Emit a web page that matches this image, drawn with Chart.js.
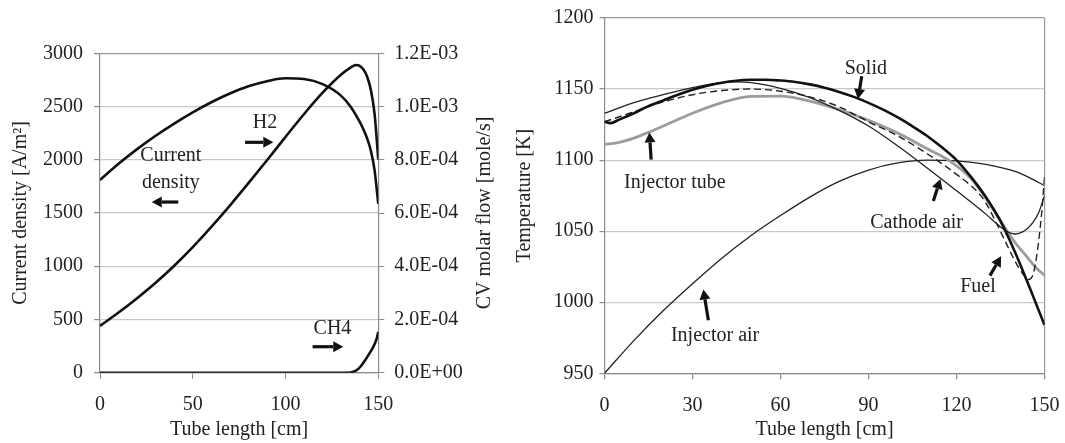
<!DOCTYPE html>
<html><head><meta charset="utf-8">
<script src="https://cdn.jsdelivr.net/npm/chart.js@4.4.1/dist/chart.umd.min.js"></script>
<style>
html,body{margin:0;padding:0;background:#fff;width:1065px;height:443px;overflow:hidden}
#c1{position:absolute;left:0;top:0}
#c2{position:absolute;left:500px;top:0}
</style></head><body>
<canvas id="c1" width="500" height="443"></canvas>
<canvas id="c2" width="565" height="443"></canvas>
<script>
// ---------- Left chart data ----------
const leftXTicks = [0, 50, 100, 150];
const currentTicks = [0, 500, 1000, 1500, 2000, 2500, 3000];
const molarTickValues = [0, 0.0002, 0.0004, 0.0006, 0.0008, 0.0010, 0.0012];
const molarTickLabels = ['0.0E+00', '2.0E-04', '4.0E-04', '6.0E-04', '8.0E-04', '1.0E-03', '1.2E-03'];

const cdX = [0, 10, 20, 30, 40, 50, 60, 70, 80, 90, 100, 110, 120, 130, 135, 140, 142, 144, 146, 148, 150];
const cdY = [1810, 1962, 2100, 2226, 2340, 2445, 2540, 2622, 2690, 2738, 2765, 2758, 2710, 2600, 2500, 2355, 2285, 2200, 2085, 1900, 1585];

const h2X = [0, 10, 20, 30, 40, 50, 60, 70, 80, 90, 100, 110, 120, 130, 135, 138, 140, 142, 144, 146, 148, 150];
const h2Y = [1.76e-4, 2.26e-4, 2.80e-4, 3.38e-4, 4.02e-4, 4.72e-4, 5.48e-4, 6.28e-4, 7.12e-4, 7.98e-4, 8.86e-4, 9.72e-4, 1.052e-3, 1.120e-3, 1.146e-3, 1.156e-3, 1.153e-3, 1.139e-3, 1.112e-3, 1.062e-3, 9.72e-4, 8.0e-4];

const ch4X = [0, 133, 135, 137, 139, 141, 143, 145, 147, 149, 150];
const ch4Y = [0, 0, 1e-6, 5e-6, 1.3e-5, 2.8e-5, 4.8e-5, 7.0e-5, 9.3e-5, 1.25e-4, 1.54e-4];

// ---------- Right chart data ----------
const rightXTicks = [0, 30, 60, 90, 120, 150];
const tempTicks = [950, 1000, 1050, 1100, 1150, 1200];

const solidX = [0, 2, 5, 10, 15, 20, 25, 30, 35, 40, 45, 50, 55, 60, 65, 70, 75, 80, 85, 90, 95, 100, 105, 110, 115, 120, 125, 130, 135, 140, 145, 150];
const solidY = [1127, 1126, 1128.5, 1133, 1138, 1142, 1146, 1149.5, 1152.3, 1154.5, 1155.9, 1156.5, 1156.6, 1156, 1155, 1153.3, 1151, 1148, 1144.5, 1140.3, 1135.5, 1130, 1123.8, 1117, 1109, 1100, 1088, 1074, 1057, 1035, 1010, 984];

const cathodeX = [0, 10, 20, 30, 40, 45, 50, 60, 70, 80, 90, 100, 110, 120, 130, 135, 138, 140, 142, 144, 146, 148, 150];
const cathodeY = [1133, 1140.5, 1146, 1151, 1154.5, 1155, 1154.5, 1150.5, 1144, 1135, 1124, 1110, 1094.5, 1078.5, 1062, 1053, 1049, 1048, 1049, 1051.5, 1056, 1063, 1075];

const fuelX = [0, 10, 20, 30, 40, 50, 60, 70, 80, 90, 100, 110, 120, 127, 130, 134, 138, 141, 143, 144.5, 146, 147, 148, 149, 150];
const fuelY = [1127, 1134, 1141, 1146, 1149, 1150, 1148.5, 1144.5, 1137.5, 1127, 1117, 1104.5, 1090, 1078, 1070, 1054, 1037, 1025, 1019, 1016, 1019, 1028, 1043, 1062, 1088];

const tubeX = [0, 5, 10, 15, 20, 30, 40, 50, 60, 70, 80, 90, 100, 110, 118, 125, 131, 137, 140, 144, 147, 150];
const tubeY = [1111, 1112.5, 1115.5, 1119.5, 1124, 1133, 1140.5, 1144.8, 1145, 1141.5, 1135.5, 1128, 1119, 1108, 1099, 1087, 1070, 1051, 1042, 1032, 1024.5, 1019];

const injAirX = [0, 10, 20, 30, 40, 50, 60, 70, 80, 90, 100, 110, 120, 130, 140, 145, 150];
const injAirY = [950, 973, 994, 1013, 1031, 1047, 1061, 1074, 1085, 1093, 1098, 1100, 1099.5, 1097, 1092, 1087.5, 1082];

// ---------- Annotations (data coordinates) ----------
const leftLabels = [
  {lines: ['Current', 'density'], x: 38.2, y: 1910},
  {lines: ['H2'], x: 88.9, y: 2350},
  {lines: ['CH4'], x: 125.3, y: 410}
];
const leftArrows = [
  {x1: 42.2, y1: 1603, x2: 27.9, y2: 1603},
  {x1: 78.2, y1: 2164, x2: 93.4, y2: 2164},
  {x1: 114.6, y1: 244, x2: 131.1, y2: 244}
];
const rightLabels = [
  {lines: ['Solid'], x: 89.1, y: 1164.4},
  {lines: ['Injector tube'], x: 24, y: 1083.8},
  {lines: ['Cathode air'], x: 106.4, y: 1055.8},
  {lines: ['Fuel'], x: 127.3, y: 1010.6},
  {lines: ['Injector air'], x: 37.7, y: 976.1}
];
const rightArrows = [
  {x1: 87.7, y1: 1159, x2: 86.4, y2: 1143},
  {x1: 15.9, y1: 1100.3, x2: 15.3, y2: 1119.5},
  {x1: 112.1, y1: 1071.2, x2: 114.5, y2: 1086.8},
  {x1: 131.4, y1: 1018.7, x2: 135.2, y2: 1032.3},
  {x1: 35.4, y1: 987.3, x2: 33.7, y2: 1009}
];

const FONT = 'Liberation Serif, Times New Roman, serif';
const pts = (xs, ys) => xs.map((x, i) => ({x: x, y: ys[i]}));
const setTicks = arr => s => { s.ticks = arr.map(v => ({value: v})); };

function drawArrow(ctx, x1, y1, x2, y2) {
  const ang = Math.atan2(y2 - y1, x2 - x1);
  const hl = 10, hw = 5.5;
  const bx = x2 - hl * Math.cos(ang), by = y2 - hl * Math.sin(ang);
  ctx.save();
  ctx.strokeStyle = '#111'; ctx.fillStyle = '#111';
  ctx.lineWidth = 3.2; ctx.lineCap = 'butt';
  ctx.beginPath(); ctx.moveTo(x1, y1); ctx.lineTo(bx, by); ctx.stroke();
  ctx.beginPath();
  ctx.moveTo(x2, y2);
  ctx.lineTo(bx + hw * Math.sin(ang), by - hw * Math.cos(ang));
  ctx.lineTo(bx - hw * Math.sin(ang), by + hw * Math.cos(ang));
  ctx.closePath(); ctx.fill();
  ctx.restore();
}

function annotPlugin(labels, arrows, yId, extra) {
  return {
    id: 'annot',
    afterDatasetsDraw(chart) {
      const ctx = chart.ctx, xs = chart.scales.x, ys = chart.scales[yId];
      ctx.save();
      ctx.font = '20px ' + FONT;
      ctx.fillStyle = '#222';
      ctx.textAlign = 'center'; ctx.textBaseline = 'middle';
      labels.forEach(l => {
        const px = xs.getPixelForValue(l.x), py = ys.getPixelForValue(l.y);
        const n = l.lines.length, lh = 27;
        l.lines.forEach((t, i) => ctx.fillText(t, px, py + (i - (n - 1) / 2) * lh));
      });
      ctx.restore();
      arrows.forEach(a => drawArrow(ctx,
        xs.getPixelForValue(a.x1), ys.getPixelForValue(a.y1),
        xs.getPixelForValue(a.x2), ys.getPixelForValue(a.y2)));
      if (extra) extra(chart);
    }
  };
}

const lineBase = {pointRadius: 0, fill: false, cubicInterpolationMode: 'monotone', borderJoinStyle: 'round'};
const tickFont = {family: FONT, size: 20};
const AXIS = '#8a8a8a', GRID = '#c8c8c8';
const plain = v => String(v);
const fitX = h => s => { s.height = h; s.paddingLeft = 0; s.paddingRight = 0; };

// ---------- Left chart ----------
new Chart(document.getElementById('c1'), {
  type: 'line',
  data: {
    datasets: [
      Object.assign({label: 'Current density', data: pts(cdX, cdY), yAxisID: 'y', borderColor: '#111', borderWidth: 2.6}, lineBase),
      Object.assign({label: 'H2', data: pts(h2X, h2Y), yAxisID: 'y1', borderColor: '#111', borderWidth: 2.6}, lineBase),
      Object.assign({label: 'CH4', data: pts(ch4X, ch4Y), yAxisID: 'y1', borderColor: '#111', borderWidth: 2.6}, lineBase)
    ]
  },
  options: {
    responsive: false, animation: false, devicePixelRatio: 1,
    layout: {padding: {top: 53.3, left: 0, right: 0, bottom: 0}},
    plugins: {legend: {display: false}, tooltip: {enabled: false}},
    scales: {
      x: {
        type: 'linear', min: 0, max: 150,
        afterBuildTicks: setTicks(leftXTicks),
        afterFit: fitX(70.3),
        ticks: {font: tickFont, color: '#222', padding: 14, maxRotation: 0, callback: plain},
        grid: {drawOnChartArea: false, tickLength: 6, tickColor: AXIS},
        border: {color: AXIS, width: 1.2},
        title: {display: true, text: 'Tube length [cm]', font: tickFont, color: '#222', padding: {top: 0, bottom: 1}}
      },
      y: {
        type: 'linear', position: 'left', min: 0, max: 3000,
        afterBuildTicks: setTicks(currentTicks),
        afterFit: s => { s.width = 100; },
        ticks: {font: tickFont, color: '#222', padding: 11, callback: plain},
        grid: {color: c => (c.tick && c.tick.value === 3000) ? '#999' : GRID, tickLength: 6, tickColor: AXIS, lineWidth: 1.2},
        border: {color: AXIS, width: 1.2},
        title: {display: true, text: 'Current density [A/m²]', font: tickFont, color: '#222', padding: {top: 9, bottom: 0}}
      },
      y1: {
        type: 'linear', position: 'right', min: 0, max: 0.0012,
        afterBuildTicks: setTicks(molarTickValues),
        afterFit: s => { s.width = 121.7; },
        ticks: {font: tickFont, color: '#222', padding: 10, callback: (v, i) => molarTickLabels[i]},
        grid: {drawOnChartArea: false, tickLength: 6, tickColor: AXIS},
        border: {color: AXIS, width: 1.2}
      }
    }
  },
  plugins: [annotPlugin(leftLabels, leftArrows, 'y', chart => {
    const ctx = chart.ctx, a = chart.chartArea;
    ctx.save();
    ctx.font = '20px ' + FONT; ctx.fillStyle = '#222';
    ctx.textAlign = 'center'; ctx.textBaseline = 'middle';
    ctx.translate(485, (a.top + a.bottom) / 2);
    ctx.rotate(-Math.PI / 2);
    ctx.fillText('CV molar flow [mole/s]', 0, 0);
    ctx.restore();
  })]
});

// ---------- Right chart ----------
new Chart(document.getElementById('c2'), {
  type: 'line',
  data: {
    datasets: [
      Object.assign({label: 'Solid', data: pts(solidX, solidY), borderColor: '#111', borderWidth: 2.6}, lineBase),
      Object.assign({label: 'Fuel', data: pts(fuelX, fuelY), borderColor: '#222', borderWidth: 1.4, borderDash: [7, 4]}, lineBase),
      Object.assign({label: 'Cathode air', data: pts(cathodeX, cathodeY), borderColor: '#222', borderWidth: 1.3}, lineBase),
      Object.assign({label: 'Injector tube', data: pts(tubeX, tubeY), borderColor: '#9c9c9c', borderWidth: 2.8}, lineBase),
      Object.assign({label: 'Injector air', data: pts(injAirX, injAirY), borderColor: '#222', borderWidth: 1.3}, lineBase)
    ]
  },
  options: {
    responsive: false, animation: false, devicePixelRatio: 1,
    layout: {padding: {top: 15.8, left: 0, right: 20.5, bottom: 0}},
    plugins: {legend: {display: false}, tooltip: {enabled: false}},
    scales: {
      x: {
        type: 'linear', min: 0, max: 150,
        afterBuildTicks: setTicks(rightXTicks),
        afterFit: fitX(69.7),
        ticks: {font: tickFont, color: '#222', padding: 14, maxRotation: 0, callback: plain},
        grid: {color: c => (c.tick && c.tick.value === 150) ? '#999' : 'rgba(0,0,0,0)', tickLength: 6, tickColor: AXIS, lineWidth: 1.2},
        border: {color: AXIS, width: 1.2},
        title: {display: true, text: 'Tube length [cm]', font: tickFont, color: '#222', padding: {top: 0, bottom: 1}}
      },
      y: {
        type: 'linear', position: 'left', min: 950, max: 1200,
        afterBuildTicks: setTicks(tempTicks),
        afterFit: s => { s.width = 104.5; },
        ticks: {font: tickFont, color: '#222', padding: 6, callback: plain},
        grid: {color: c => (c.tick && c.tick.value === 1200) ? '#999' : GRID, tickLength: 5, tickColor: AXIS, lineWidth: 1.2},
        border: {color: AXIS, width: 1.2},
        title: {display: true, text: 'Temperature [K]', font: tickFont, color: '#222', padding: {top: 12.5, bottom: 0}}
      }
    }
  },
  plugins: [annotPlugin(rightLabels, rightArrows, 'y')]
});
</script>
</body></html>
